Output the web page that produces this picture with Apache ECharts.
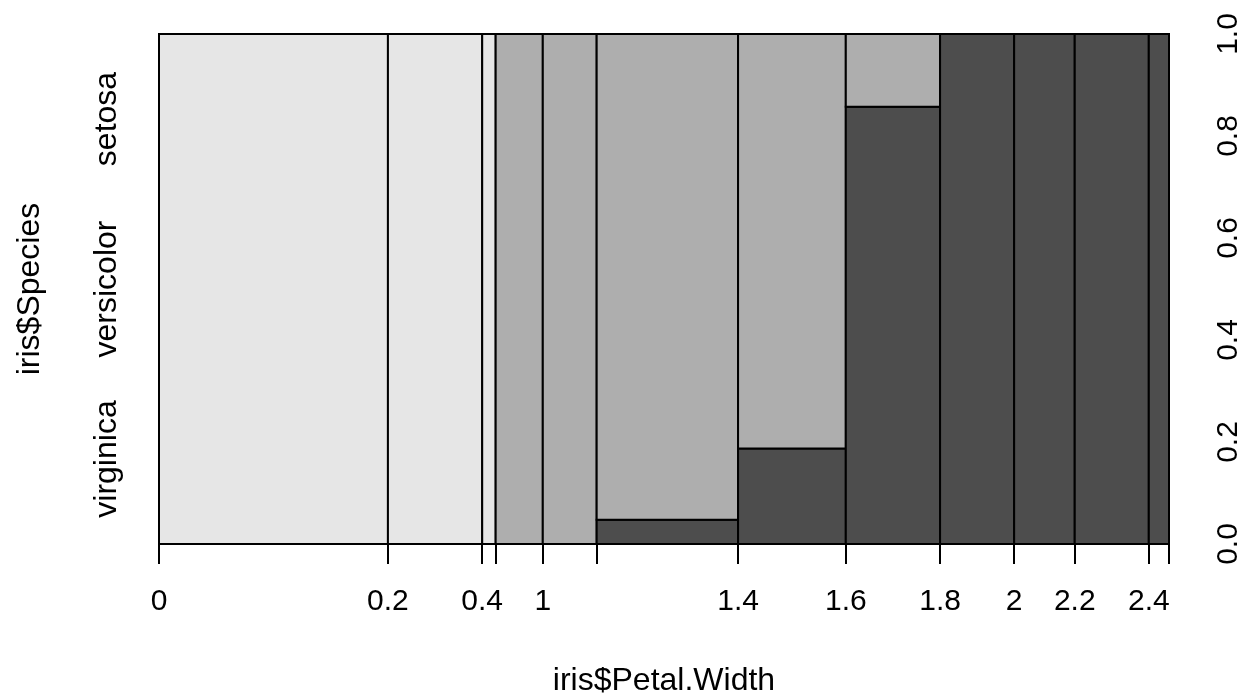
<!DOCTYPE html>
<html>
<head>
<meta charset="utf-8">
<script src="https://cdn.jsdelivr.net/npm/echarts@6/dist/echarts.min.js"></script>
<style>
  html, body { margin: 0; padding: 0; background: #fff; }
  #chart { width: 1248px; height: 693px; }
</style>
</head>
<body>
<div id="chart"></div>
<script>
// histogram breaks of iris$Petal.Width and counts per species in each bin
const breaks = [0, 0.2, 0.4, 0.6, 0.8, 1, 1.2, 1.4, 1.6, 1.8, 2, 2.2, 2.4, 2.6]
const setosa = [34, 14, 2, 0, 0, 0, 0, 0, 0, 0, 0, 0, 0]
const versicolor = [0, 0, 0, 0, 7, 8, 20, 13, 2, 0, 0, 0, 0]
const virginica = [0, 0, 0, 0, 0, 0, 1, 3, 12, 11, 9, 11, 3]
// break labels that R actually prints (others overlap)
const shownBreaks = [0, 0.2, 0.4, 1, 1.4, 1.6, 1.8, 2, 2.2, 2.4]
const speciesNames = ['virginica', 'versicolor', 'setosa']   // bottom to top
const speciesColors = ['#4D4D4D', '#AEAEAE', '#E6E6E6']
const yTicks = [0, 0.2, 0.4, 0.6, 0.8, 1]

const stacks = [virginica, versicolor, setosa]
const fnt = 'Liberation Sans, Arial, Helvetica, sans-serif'

// cumulative counts give the bin edges on the x axis
let cum = [0]
for (let i = 0; i < setosa.length; i++) {
  cum.push(cum[i] + setosa[i] + versicolor[i] + virginica[i])
}
const total = cum[cum.length - 1]

let rects = []
for (let i = 0; i < setosa.length; i++) {
  let n = cum[i + 1] - cum[i]
  if (n === 0) continue
  let y = 0
  for (let s = 0; s < stacks.length; s++) {
    let h = stacks[s][i] / n
    if (h > 0) rects.push([cum[i], cum[i + 1], y, y + h, s])
    y += h
  }
}

const labelPos = shownBreaks.map(b => cum[breaks.indexOf(b)])
// species labels sit at the middle of each marginal share
let marg = []
let acc = 0
for (let s = 0; s < stacks.length; s++) {
  let n = stacks[s].reduce((a, b) => a + b, 0) / total
  marg.push(acc + n / 2)
  acc += n
}

let myChart = echarts.init(document.getElementById('chart'))
myChart.setOption({
  animation: false,
  backgroundColor: '#fff',
  grid: { left: 159, right: 79, top: 34, bottom: 149, containLabel: false, outerBoundsMode: 'none' },
  xAxis: {
    type: 'value',
    min: 0,
    max: total,
    name: 'iris$Petal.Width',
    nameLocation: 'middle',
    nameGap: 121,
    nameTextStyle: { color: '#000', fontSize: 32, fontFamily: fnt },
    splitLine: { show: false },
    axisLine: { show: true, lineStyle: { color: '#000', width: 2 } },
    axisTick: { show: true, length: 20, customValues: cum, lineStyle: { color: '#000', width: 2 } },
    axisLabel: {
      customValues: labelPos,
      margin: 43,
      color: '#000',
      fontSize: 30,
      fontFamily: fnt,
      formatter: v => String(shownBreaks[labelPos.indexOf(v)])
    }
  },
  yAxis: [
    {
      type: 'value',
      position: 'right',
      min: 0,
      max: 1,
      interval: 0.2,
      splitLine: { show: false },
      axisLine: { show: false },
      axisTick: { show: true, length: 20, customValues: yTicks, lineStyle: { color: '#000', width: 2 } },
      axisLabel: {
        customValues: yTicks,
        rotate: 90,
        margin: 45,
        color: '#000',
        fontSize: 30,
        fontFamily: fnt,
        formatter: v => v.toFixed(1)
      }
    },
    {
      type: 'value',
      position: 'left',
      min: 0,
      max: 1,
      name: 'iris$Species',
      nameLocation: 'middle',
      nameRotate: 90,
      nameGap: 113,
      nameTextStyle: { color: '#000', fontSize: 32, fontFamily: fnt },
      splitLine: { show: false },
      axisLine: { show: false },
      axisTick: { show: false },
      axisLabel: {
        customValues: marg,
        rotate: 90,
        margin: 36,
        color: '#000',
        fontSize: 32,
        fontFamily: fnt,
        formatter: v => speciesNames[marg.indexOf(v)]
      }
    }
  ],
  series: [{
    type: 'custom',
    silent: true,
    xAxisIndex: 0,
    yAxisIndex: 0,
    encode: { x: [0, 1], y: [2, 3] },
    data: rects,
    renderItem: (params, api) => {
      let p0 = api.coord([api.value(0), api.value(2)])
      let p1 = api.coord([api.value(1), api.value(3)])
      return {
        type: 'rect',
        shape: { x: p0[0], y: p1[1], width: p1[0] - p0[0], height: p0[1] - p1[1] },
        style: { fill: speciesColors[api.value(4)], stroke: '#000', lineWidth: 2 }
      }
    }
  }]
})
</script>
</body>
</html>
